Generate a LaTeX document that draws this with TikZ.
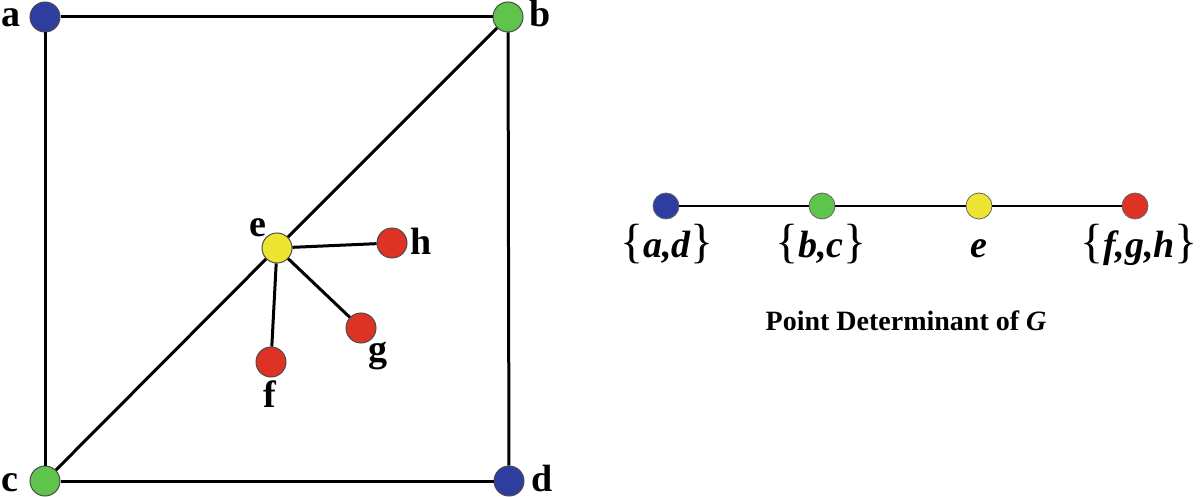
\documentclass[tikz,border=0pt]{standalone}
\usepackage{fontspec}
\setmainfont{Liberation Serif}
\definecolor{vblue}{RGB}{46,62,160}
\definecolor{vgreen}{RGB}{94,196,76}
\definecolor{vyellow}{RGB}{238,228,50}
\definecolor{vred}{RGB}{222,50,36}
\newcommand{\lbr}{{\fontsize{24}{24}\selectfont\mdseries\upshape\{}}
\newcommand{\rbr}{{\fontsize{24}{24}\selectfont\mdseries\upshape\}}}
\tikzset{
  vtx/.style={circle,draw=black!70,line width=0.5pt,minimum size=15pt,inner sep=0pt},
  svtx/.style={circle,draw=black!60,line width=0.4pt,minimum size=13pt,inner sep=0pt},
  edge/.style={line width=1.5pt,black},
  sedge/.style={line width=1.1pt,black},
  lab/.style={anchor=base,inner sep=0pt,font=\fontsize{19}{19}\selectfont\bfseries},
  setlab/.style={anchor=base,inner sep=0pt,font=\fontsize{19}{19}\selectfont\bfseries\itshape},
}
\begin{document}
\begin{tikzpicture}[x=0.5pt,y=-0.5pt]
\useasboundingbox (0,0) rectangle (1200,497);
% left graph
\node[vtx,fill=vblue] (a) at (45,17) {};
\node[vtx,fill=vgreen] (b) at (508,17) {};
\node[vtx,fill=vgreen] (c) at (45,481) {};
\node[vtx,fill=vblue] (d) at (509,481) {};
\node[vtx,fill=vyellow] (e) at (277,248) {};
\node[vtx,fill=vred] (h) at (392,243) {};
\node[vtx,fill=vred] (g) at (361,328) {};
\node[vtx,fill=vred] (f) at (271,362) {};
\draw[edge] (a) -- (b);
\draw[edge] (a) -- (c);
\draw[edge] (b) -- (d);
\draw[edge] (c) -- (d);
\draw[edge] (b) -- (e);
\draw[edge] (e) -- (c);
\draw[edge] (e) -- (h);
\draw[edge] (e) -- (g);
\draw[edge] (e) -- (f);
\node[lab] (la) at (11,27) {a};
\node[lab] (lb) at (540,27) {b};
\node[lab] (lc) at (10,491) {c};
\node[lab] (ld) at (542,491) {d};
\node[lab] (le) at (258,237) {e};
\node[lab] (lh) at (421,255) {h};
\node[lab] (lg) at (378,362) {g};
\node[lab] (lf) at (270,408) {f};
% right path
\node[svtx,fill=vblue] (p1) at (666,206) {};
\node[svtx,fill=vgreen] (p2) at (822,206) {};
\node[svtx,fill=vyellow] (p3) at (979,206) {};
\node[svtx,fill=vred] (p4) at (1135,206) {};
\draw[sedge] (p1) -- (p2);
\draw[sedge] (p2) -- (p3);
\draw[sedge] (p3) -- (p4);
\node[setlab] (s1) at (667,258) {\lbr a,d\rbr};
\node[setlab] (s2) at (821,258) {\lbr b,c\rbr};
\node[setlab] (s3) at (979,258) {e};
\node[setlab] (s4) at (1139,258) {\lbr f,g,h\rbr};
\node[anchor=base,inner sep=0pt,font=\fontsize{14}{14}\selectfont\bfseries] (title) at (906,330) {Point Determinant of \textit{G}};
\end{tikzpicture}
\end{document}
